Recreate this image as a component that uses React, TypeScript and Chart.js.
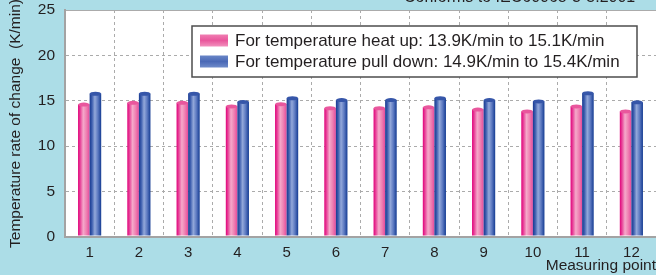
import React, { useEffect, useRef } from "react";
import { Chart, registerables } from "chart.js";

Chart.register(...registerables);

const categories = ["1", "2", "3", "4", "5", "6", "7", "8", "9", "10", "11", "12"];
const heatUp = [14.8, 15.0, 15.0, 14.6, 14.85, 14.4, 14.4, 14.5, 14.25, 14.05, 14.6, 14.05];
const pullDown = [16.0, 16.0, 16.0, 15.1, 15.5, 15.3, 15.3, 15.5, 15.3, 15.15, 16.05, 15.05];
const seriesLabels = [
  "For temperature heat up: 13.9K/min to 15.1K/min",
  "For temperature pull down: 14.9K/min to 15.4K/min",
];
const yMin = 0;
const yMax = 25;
const yStep = 5;
const yTitle = "Temperature rate of change  (K/min)";
const xTitle = "Measuring point";
const noteText = "Conforms to IEC60068-3-5:2001";

const FONT = "'Liberation Sans', Arial, Helvetica, sans-serif";
const TEXT = "#231f20";
const BG = "#acdde7";
const GRID = "#ababab";

const palettes = [
  {
    stops: [
      [0, "#e0007a"],
      [0.2, "#e8469a"],
      [0.45, "#f5a9ca"],
      [0.72, "#ef80b2"],
      [1, "#e54a9b"],
    ],
    cap: "#e9579d",
    swatch: ["#f07db2", "#e9579c", "#f290bd"],
  },
  {
    stops: [
      [0, "#173990"],
      [0.2, "#3d5eae"],
      [0.45, "#93a8da"],
      [0.72, "#5b78c0"],
      [1, "#143b92"],
    ],
    cap: "#3656a9",
    swatch: ["#6a86c7", "#4a69b6", "#6f8bca"],
  },
];

const paintPlugin = {
  id: "paintPlugin",
  beforeDraw(chart: any) {
    const { ctx, chartArea: a, width, height } = chart;
    ctx.save();
    ctx.fillStyle = BG;
    ctx.fillRect(0, 0, width, height);
    ctx.fillStyle = "#ffffff";
    ctx.fillRect(a.left, a.top, a.right - a.left, a.bottom - a.top);
    ctx.fillStyle = TEXT;
    ctx.font = `16px ${FONT}`;
    ctx.textAlign = "left";
    ctx.textBaseline = "alphabetic";
    ctx.fillText(noteText, 404, 2);
    ctx.restore();
  },
  afterDatasetsDraw(chart: any) {
    const ctx = chart.ctx;
    chart.data.datasets.forEach((_ds: any, di: number) => {
      const meta = chart.getDatasetMeta(di);
      const pal = palettes[di];
      meta.data.forEach((el: any) => {
        const { x, y, base, width } = el.getProps(["x", "y", "base", "width"], true);
        const l = x - width / 2;
        const r = x + width / 2;
        const capH = 4;
        const g = ctx.createLinearGradient(l, 0, r, 0);
        pal.stops.forEach(([o, c]: any) => g.addColorStop(o, c));
        ctx.save();
        ctx.fillStyle = g;
        ctx.fillRect(l, y + capH / 2, width, base - 1 - (y + capH / 2));
        ctx.beginPath();
        ctx.ellipse(x, y + capH / 2, width / 2, capH / 2, 0, 0, Math.PI * 2);
        ctx.fillStyle = pal.cap;
        ctx.fill();
        ctx.restore();
      });
    });
  },
  afterDraw(chart: any) {
    const ctx = chart.ctx;
    const bx = 192;
    const by = 26;
    const bw = 445;
    const bh = 51;
    ctx.save();
    ctx.fillStyle = "#ffffff";
    ctx.fillRect(bx, by, bw, bh);
    ctx.strokeStyle = "#4d4d4d";
    ctx.lineWidth = 1.5;
    ctx.strokeRect(bx, by, bw, bh);
    chart.data.datasets.forEach((ds: any, i: number) => {
      const cy = by + 14.5 + i * 21;
      const sx = 200;
      const sw = 28;
      const sh = 12;
      const g = ctx.createLinearGradient(0, cy - sh / 2, 0, cy + sh / 2);
      const sc = palettes[i].swatch;
      g.addColorStop(0, sc[0]);
      g.addColorStop(0.5, sc[1]);
      g.addColorStop(1, sc[2]);
      ctx.fillStyle = g;
      ctx.fillRect(sx, cy - sh / 2, sw, sh);
      ctx.fillStyle = TEXT;
      ctx.font = `17px ${FONT}`;
      ctx.textAlign = "left";
      ctx.textBaseline = "middle";
      ctx.fillText(ds.label, 235, cy + 0.5);
    });
    ctx.restore();
  },
};

export default function App() {
  const ref = useRef<HTMLCanvasElement | null>(null);

  useEffect(() => {
    if (!ref.current) return;
    const chart = new Chart(ref.current, {
      type: "bar",
      data: {
        labels: categories,
        datasets: [
          {
            label: seriesLabels[0],
            data: heatUp,
            backgroundColor: "rgba(0,0,0,0)",
            borderWidth: 0,
            barPercentage: 1,
            categoryPercentage: 0.47,
          },
          {
            label: seriesLabels[1],
            data: pullDown,
            backgroundColor: "rgba(0,0,0,0)",
            borderWidth: 0,
            barPercentage: 1,
            categoryPercentage: 0.47,
          },
        ],
      },
      options: {
        responsive: false,
        animation: false,
        devicePixelRatio: 1,
        layout: { padding: { top: 10, right: 0, left: 0, bottom: 0 } },
        plugins: {
          legend: { display: false },
          tooltip: { enabled: false },
          title: { display: false },
        },
        scales: {
          x: {
            afterFit: (s: any) => {
              s.height = 38;
              s.paddingLeft = 0;
              s.paddingRight = 0;
            },
            grid: {
              offset: true,
              color: GRID,
              lineWidth: 1,
              drawTicks: false,
            },
            border: { display: true, color: "#a3a3a3", width: 2, dash: [3, 3] },
            ticks: {
              color: TEXT,
              font: { family: FONT, size: 15 },
              padding: 7,
              maxRotation: 0,
            },
            title: {
              display: true,
              text: xTitle,
              align: "end",
              color: TEXT,
              font: { family: FONT, size: 15.5 },
              padding: { top: 0, bottom: 0 },
            },
          },
          y: {
            min: yMin,
            max: yMax,
            afterFit: (s: any) => {
              s.width = 65;
              s.paddingTop = 0;
              s.paddingBottom = 0;
            },
            grid: {
              color: GRID,
              lineWidth: 1,
              drawTicks: false,
            },
            border: {
              display: true,
              color: "#a3a3a3",
              width: 2,
              dash: (c: any) => (c.tick && c.tick.value === yMax ? [] : [3, 3]),
            },
            ticks: {
              stepSize: yStep,
              color: TEXT,
              font: { family: FONT, size: 15.5 },
              padding: 10,
            },
            title: {
              display: true,
              text: yTitle,
              color: TEXT,
              font: { family: FONT, size: 15.5 },
              padding: { top: 6, bottom: 0 },
            },
          },
        },
      } as any,
      plugins: [paintPlugin],
    });
    return () => chart.destroy();
  }, []);

  return (
    <div style={{ position: "fixed", left: 0, top: 0, width: 656, height: 275, overflow: "hidden" }}>
      <canvas ref={ref} width={656} height={275} style={{ display: "block", width: 656, height: 275 }} />
    </div>
  );
}
